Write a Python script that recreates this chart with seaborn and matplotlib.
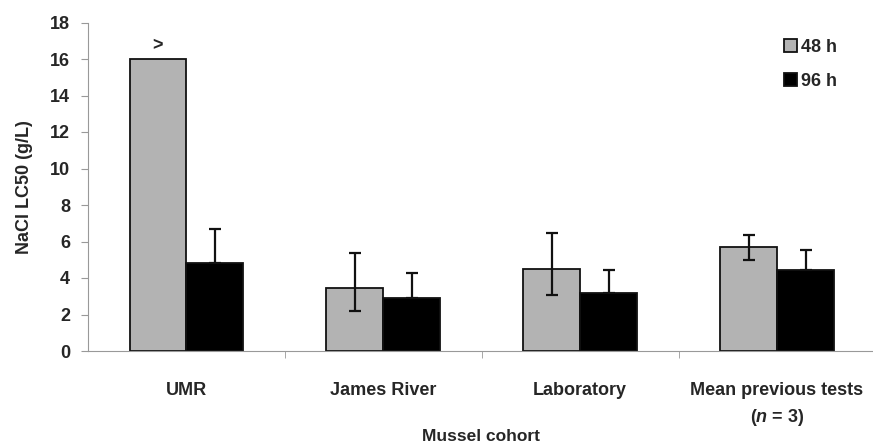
import numpy as np
import pandas as pd
import matplotlib
matplotlib.use('Agg')
import matplotlib.pyplot as plt
import seaborn as sns
from matplotlib.ticker import FixedLocator

# 数据
cohorts = ['UMR', 'James River', 'Laboratory', 'Mean previous tests\n($\\mathit{n}$ = 3)']
lc50_48 = [16.0, 3.47, 4.49, 5.68]
lo_48 = [np.nan, 2.19, 3.07, 5.0]
hi_48 = [np.nan, 5.37, 6.47, 6.37]
lc50_96 = [4.8, 2.89, 3.2, 4.46]
hi_96 = [6.68, 4.29, 4.46, 5.55]
series = ['48 h', '96 h']

df = pd.DataFrame({
    'cohort': cohorts * 2,
    'time': [series[0]] * 4 + [series[1]] * 4,
    'lc50': lc50_48 + lc50_96,
})

sns.set_style('white')
plt.rcParams['font.family'] = ['Liberation Sans', 'DejaVu Sans']
plt.rcParams['font.weight'] = 'bold'
plt.rcParams['mathtext.fontset'] = 'custom'
plt.rcParams['mathtext.it'] = 'Liberation Sans:italic:bold'
plt.rcParams['mathtext.rm'] = 'Liberation Sans:bold'

fig = plt.figure(figsize=(8.73, 4.43), dpi=100)
ax = fig.add_axes([88 / 873, (443 - 351) / 443, 785 / 873, (351 - 22.5) / 443])

sns.barplot(data=df, x='cohort', y='lc50', hue='time', order=cohorts,
            palette=['#b3b3b3', '#000000'], width=0.578, gap=0,
            edgecolor='#111111', linewidth=1.3, ax=ax, legend=True)

# 误差线
c48, c96 = ax.containers[0], ax.containers[1]
for i, bar in enumerate(c48):
    if np.isnan(lo_48[i]):
        continue
    xc = bar.get_x() + bar.get_width() / 2
    ax.errorbar(xc, lc50_48[i], yerr=[[lc50_48[i] - lo_48[i]], [hi_48[i] - lc50_48[i]]],
                fmt='none', ecolor='#111111', elinewidth=1.6, capsize=4, capthick=1.6)
for i, bar in enumerate(c96):
    xc = bar.get_x() + bar.get_width() / 2
    ax.errorbar(xc, lc50_96[i], yerr=[[0], [hi_96[i] - lc50_96[i]]],
                fmt='none', ecolor='#111111', elinewidth=1.6, capsize=4, capthick=1.6)

# ">" 标记
b0 = c48[0]
ax.text(b0.get_x() + b0.get_width() / 2, lc50_48[0] + 0.75, '>', ha='center', va='center',
        fontsize=13, fontweight='bold')

ax.set_ylim(0, 18)
ax.set_xlim(-0.5, 3.5 - 2.5 / 197)
ax.set_yticks(range(0, 19, 2))
ax.xaxis.set_minor_locator(FixedLocator([0.5, 1.5, 2.5]))
ax.tick_params(axis='x', which='major', length=0, pad=22, labelsize=13)
ax.tick_params(axis='x', which='minor', length=5, color='#999999', direction='out', bottom=True)
ax.tick_params(axis='y', length=5, color='#999999', direction='out', left=True, labelsize=13, pad=8)
for lab in ax.get_xticklabels():
    lab.set_linespacing(1.55)
    lab.set_fontweight('bold')
for lab in ax.get_yticklabels():
    lab.set_fontweight('bold')

ax.spines['right'].set_visible(False)
ax.spines['top'].set_visible(False)
ax.spines['left'].set_color('#999999')
ax.spines['bottom'].set_color('#999999')

ax.set_ylabel('NaCl LC50 (g/L)', fontsize=13, fontweight='bold', labelpad=12)
ax.set_xlabel('Mussel cohort', fontsize=12.5, fontweight='bold', labelpad=1)

leg = ax.legend(loc='upper right', bbox_to_anchor=(0.975, 1.0), frameon=False,
                handlelength=0.7, handleheight=0.7, handletextpad=0.25,
                labelspacing=0.95, fontsize=13, title=None)
for t in leg.get_texts():
    t.set_fontweight('bold')

fig.savefig('out.png', dpi=100)
